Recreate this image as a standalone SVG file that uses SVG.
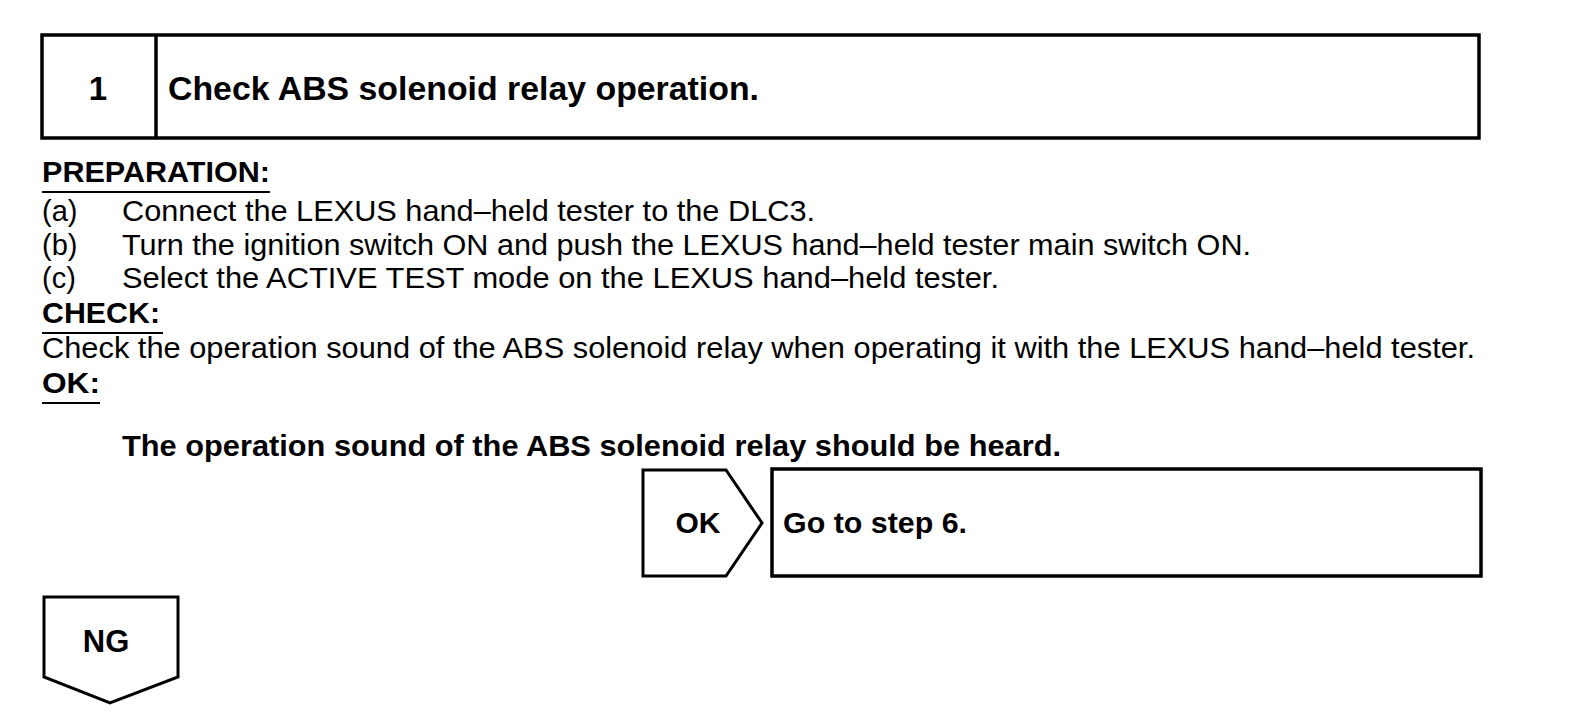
<svg xmlns="http://www.w3.org/2000/svg" width="1584" height="720" viewBox="0 0 1584 720">
<style>
.box{fill:#fff;stroke:#000;stroke-width:3.5}
.shape{fill:#fff;stroke:#000;stroke-width:3;stroke-linejoin:miter}
.ul{stroke:#000;stroke-width:2}
.b{font-family:"Liberation Sans",Arial,sans-serif;font-weight:bold;fill:#000}
.r{font-family:"Liberation Sans",Arial,sans-serif;fill:#000;font-size:29px}
</style>
<rect width="1584" height="720" fill="#fff"/>
<g id="header">
<rect class="box" x="42" y="35" width="1437" height="103"/>
<line x1="156" y1="35" x2="156" y2="138" stroke="#000" stroke-width="3.5"/>
<text class="b" x="98" y="100" font-size="33" text-anchor="middle">1</text>
<text class="b" x="168" y="100" font-size="33" textLength="591" lengthAdjust="spacingAndGlyphs">Check ABS solenoid relay operation.</text>
</g>
<g id="preparation">
<text class="b" x="42" y="182" font-size="30" textLength="228" lengthAdjust="spacingAndGlyphs">PREPARATION:</text>
<line class="ul" x1="42" y1="192" x2="270" y2="192"/>
<text class="r" x="42" y="221">(a)</text>
<text class="r" x="122" y="221" textLength="693" lengthAdjust="spacingAndGlyphs">Connect the LEXUS hand–held tester to the DLC3.</text>
<text class="r" x="42" y="255">(b)</text>
<text class="r" x="122" y="255" textLength="1129" lengthAdjust="spacingAndGlyphs">Turn the ignition switch ON and push the LEXUS hand–held tester main switch ON.</text>
<text class="r" x="42" y="288">(c)</text>
<text class="r" x="122" y="288" textLength="877" lengthAdjust="spacingAndGlyphs">Select the ACTIVE TEST mode on the LEXUS hand–held tester.</text>
</g>
<g id="check">
<text class="b" x="42" y="323" font-size="30" textLength="118" lengthAdjust="spacingAndGlyphs">CHECK:</text>
<line class="ul" x1="42" y1="333" x2="163" y2="333"/>
<text class="r" x="42" y="358" textLength="1433" lengthAdjust="spacingAndGlyphs">Check the operation sound of the ABS solenoid relay when operating it with the LEXUS hand–held tester.</text>
</g>
<g id="ok-criteria">
<text class="b" x="42" y="393" font-size="30" textLength="58" lengthAdjust="spacingAndGlyphs">OK:</text>
<line class="ul" x1="42" y1="403" x2="100" y2="403"/>
<text class="b" x="122" y="456" font-size="30" textLength="939" lengthAdjust="spacingAndGlyphs">The operation sound of the ABS solenoid relay should be heard.</text>
</g>
<g id="ok-branch">
<path class="shape" d="M643,470 H726 L762,523 L726,576 H643 Z"/>
<text class="b" x="698" y="533" font-size="30" text-anchor="middle">OK</text>
</g>
<g id="goto-step6">
<rect class="box" x="772" y="469" width="709" height="107"/>
<text class="b" x="783" y="533" font-size="30" textLength="184" lengthAdjust="spacingAndGlyphs">Go to step 6.</text>
</g>
<g id="ng-branch">
<path class="shape" d="M44,597 H178 V677 L110,703 L44,677 Z"/>
<text class="b" x="106" y="652" font-size="31" text-anchor="middle">NG</text>
</g>
<g id="connectors"></g>
</svg>
